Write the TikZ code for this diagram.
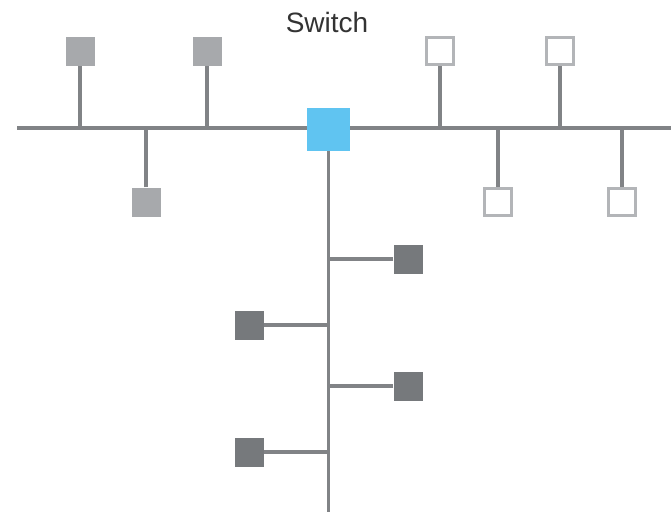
\documentclass[tikz,border=0pt]{standalone}
\usepackage{fontspec}
\setmainfont{Liberation Sans}
\usepackage{xcolor}
\usetikzlibrary{positioning,calc}
\pgfdeclarelayer{background}
\pgfsetlayers{background,main}
\definecolor{busgray}{HTML}{818386}
\definecolor{lightfill}{HTML}{A7A9AC}
\definecolor{openedge}{HTML}{B3B5B8}
\definecolor{darkfill}{HTML}{76797C}
\definecolor{switchblue}{HTML}{60C4F1}
\definecolor{labelgray}{HTML}{333333}

\begin{document}
\begin{tikzpicture}[
    x=1pt, y=-1pt,
    bus/.style={draw=busgray, line width=3.5pt},
    hostbox/.style={rectangle, inner sep=0pt, minimum size=29pt},
    lighthost/.style={hostbox, fill=lightfill},
    openhost/.style={hostbox, fill=white, draw=openedge, line width=2.6pt, minimum size=27pt},
    darkhost/.style={hostbox, fill=darkfill},
    switchnode/.style={rectangle, inner sep=0pt, minimum size=43pt, fill=switchblue}
    ]
    \useasboundingbox (0,0) rectangle (671,512);

    %Nodes
    \node[switchnode] (switch) at (328.5,129.5) {};
    \node[text=labelgray, font=\fontsize{28}{30}\selectfont] (title) at (327,22) {Switch};

    \coordinate (bus_left)  at (17,128);
    \coordinate (bus_right) at (671,128);
    \coordinate (trunk_end) at (328,512);

    \node[lighthost] (host1)  at (80,51)   {};
    \node[lighthost] (host2)  at (207,51)  {};
    \node[lighthost] (host3)  at (146,202) {};
    \node[openhost]  (host4)  at (440,51)  {};
    \node[openhost]  (host5)  at (560,51)  {};
    \node[openhost]  (host6)  at (498,202) {};
    \node[openhost]  (host7)  at (622,202) {};
    \node[darkhost]  (host8)  at (408,259) {};
    \node[darkhost]  (host9)  at (249,325) {};
    \node[darkhost]  (host10) at (408,386) {};
    \node[darkhost]  (host11) at (249,452) {};

    %Lines
    \begin{pgfonlayer}{background}
    \draw[bus] (bus_left)      -- (bus_right);
    \draw[bus] (switch.south)  -- (switch.south |- trunk_end);
    \draw[bus] (host1.south)   -- (host1.south |- bus_left);
    \draw[bus] (host2.south)   -- (host2.south |- bus_left);
    \draw[bus] (host3.north)   -- (host3.north |- bus_left);
    \draw[bus] (host4.south)   -- (host4.south |- bus_left);
    \draw[bus] (host5.south)   -- (host5.south |- bus_left);
    \draw[bus] (host6.north)   -- (host6.north |- bus_left);
    \draw[bus] (host7.north)   -- (host7.north |- bus_left);
    \draw[bus] (host8.west)    -- (host8.west -| switch.south);
    \draw[bus] (host9.east)    -- (host9.east -| switch.south);
    \draw[bus] (host10.west)   -- (host10.west -| switch.south);
    \draw[bus] (host11.east)   -- (host11.east -| switch.south);
    \end{pgfonlayer}
\end{tikzpicture}
\end{document}
